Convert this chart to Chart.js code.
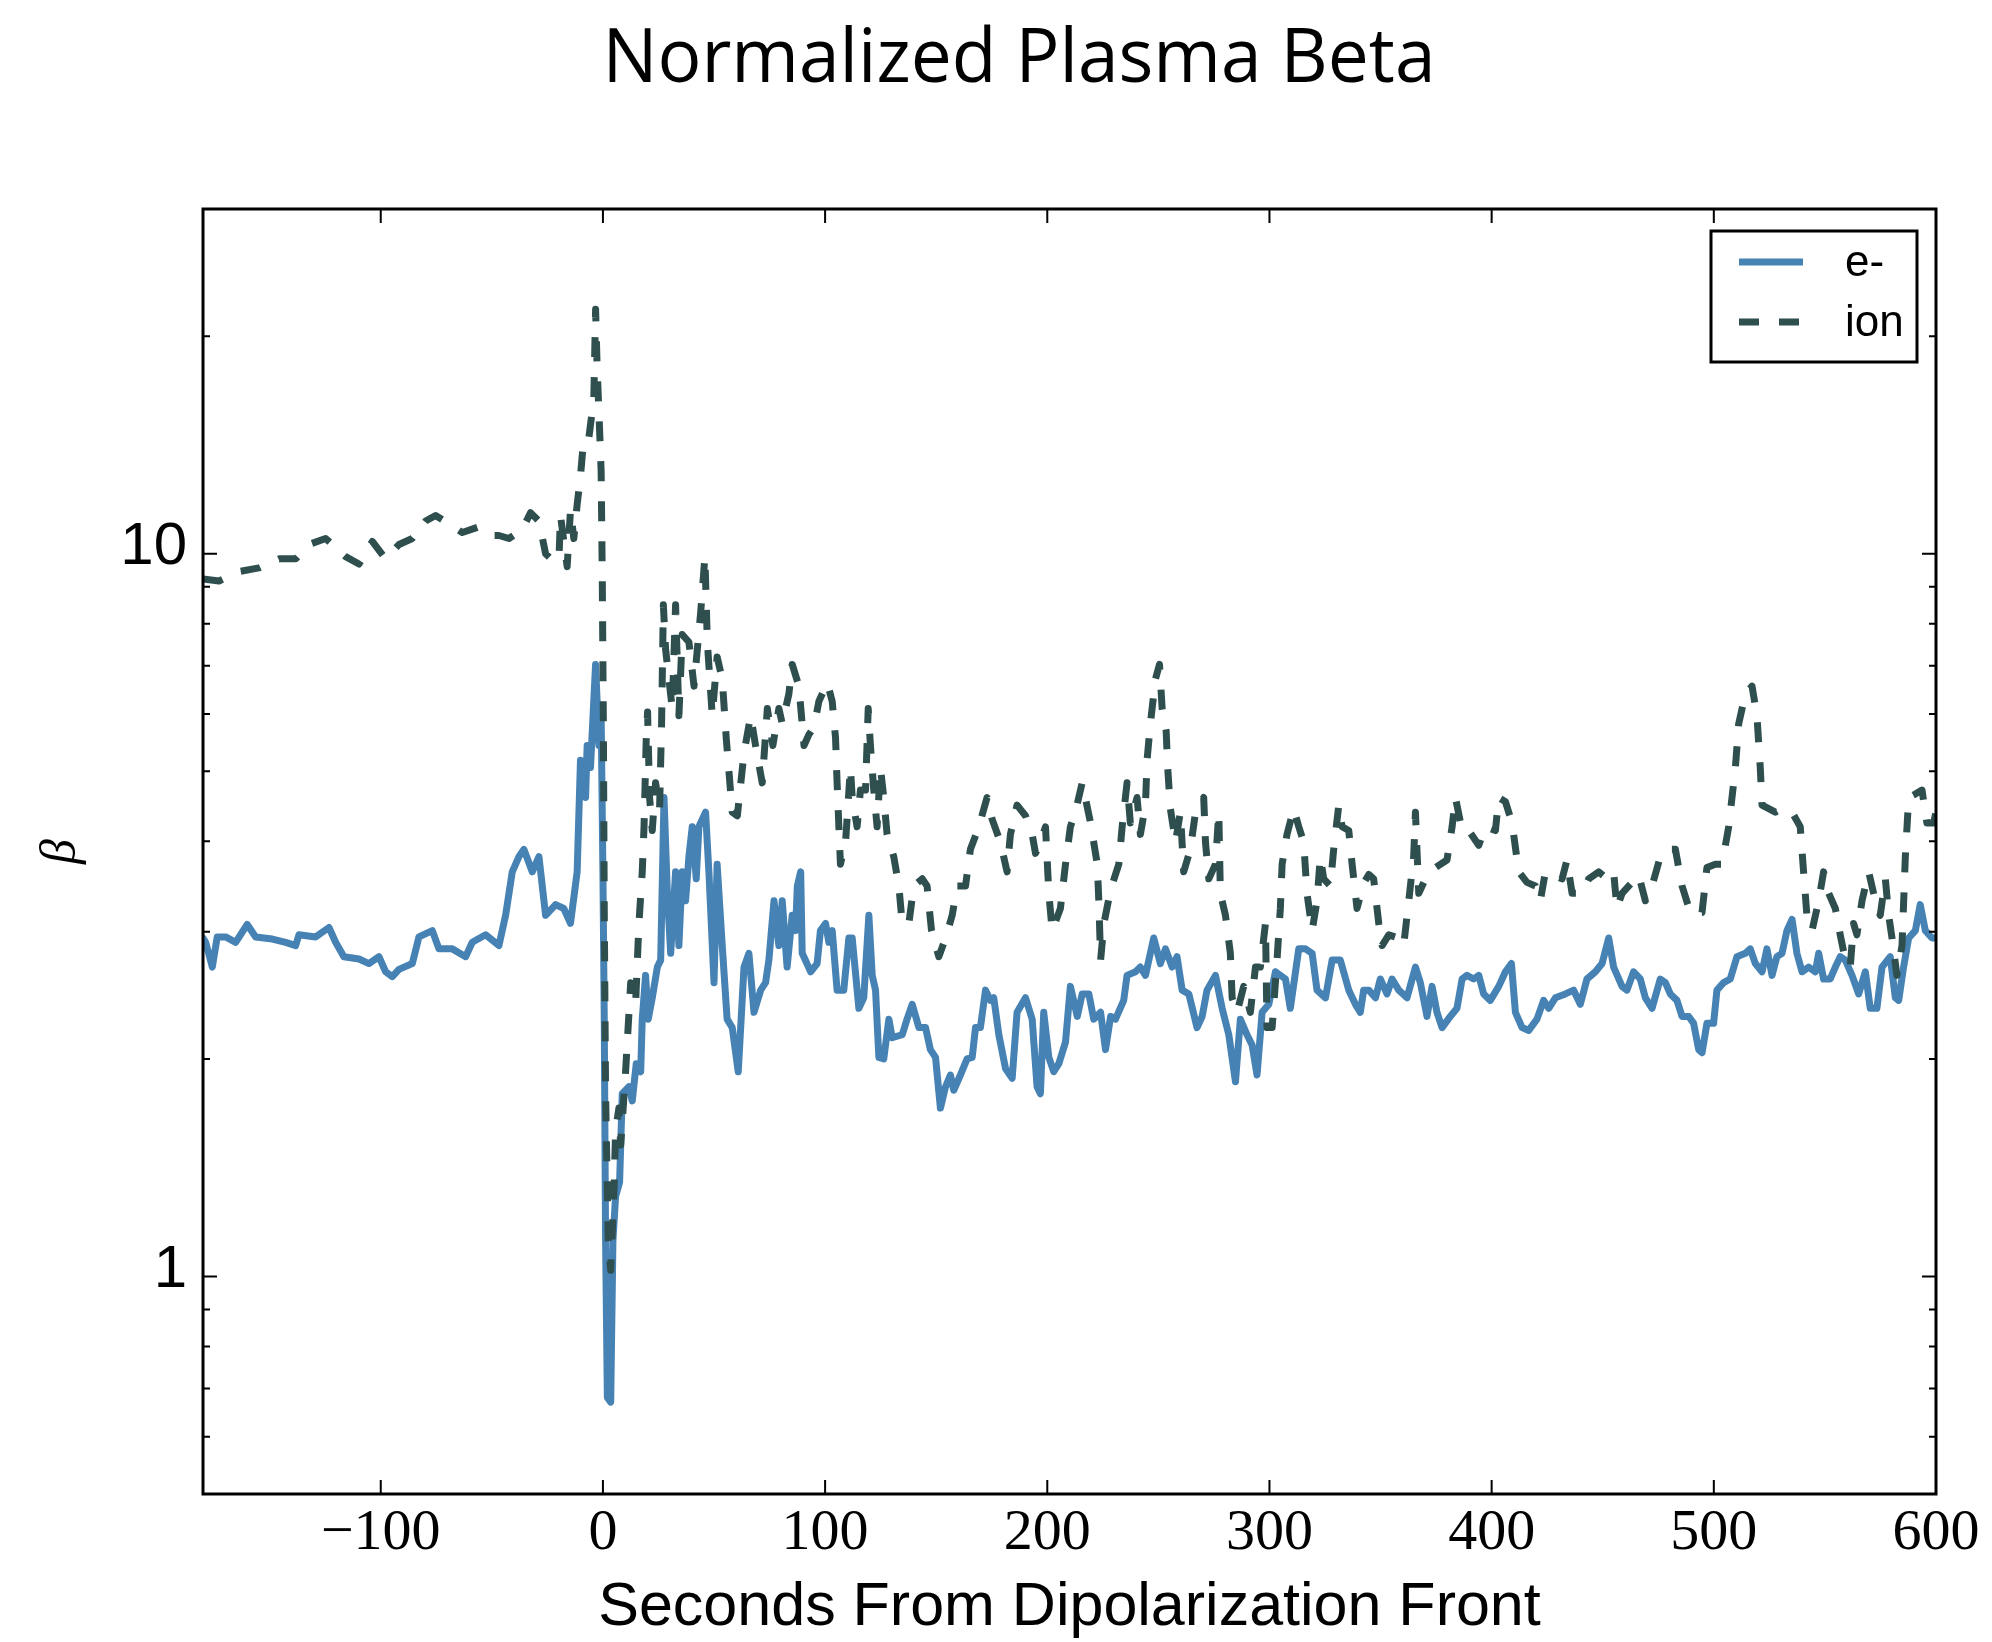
<!DOCTYPE html>
<html lang="en">

<head>
  <meta charset="UTF-8">
  <title>Normalized Plasma Beta</title>
  <script src="https://cdn.jsdelivr.net/npm/chart.js"></script>
  <style>
    body { margin: 0; background: #fff; }
  </style>
</head>

<body>
  <canvas id="betaChart" width="1992" height="1642"></canvas>

  <script>
    // seconds from the dipolarization front, and beta
    const eTime = [-180, -178.8, -175.8, -173.6, -169.8, -165.3, -160.1, -156.3, -148.8, -142.8, -138.3, -136.8,
      -129.3, -123.3, -120.3, -116.6, -109.8, -105.3, -100.8, -97.8, -94.8, -91.8, -85.8, -82.8, -76.8, -73.8,
      -67.8, -61.8, -58.8, -52.8, -46.8, -43.8, -40.8, -37.8, -35.6, -31.8, -28.8, -25.8, -21.3, -17.6, -14.6,
      -11.6, -10.1, -7.8, -7.1, -5.6, -3.3, -1.8, -0.8, 0.0, 0.6, 1.2, 2.0, 3.5, 4.5, 5.7, 7.5, 8.7, 11.7, 13.2,
      15.0, 17.0, 17.7, 19.2, 20.4, 22.2, 24.5, 26.0, 27.5, 29.0, 30.5, 32.7, 34.2, 35.7, 37.2, 38.7, 40.2, 42.0,
      43.2, 46.2, 47.7, 50.0, 51.4, 53.7, 55.9, 58.2, 60.9, 63.5, 65.7, 68.0, 71.0, 73.2, 74.7, 77.0, 79.2, 80.7,
      82.9, 85.2, 86.7, 87.5, 89.0, 89.7, 93.5, 96.4, 97.9, 100.2, 101.7, 103.2, 105.4, 108.4, 110.7, 112.2,
      115.2, 117.4, 119.7, 121.2, 122.7, 124.2, 126.4, 128.7, 130.2, 134.7, 136.9, 139.2, 142.2, 145.2, 147.4,
      149.7, 151.9, 154.2, 156.4, 157.9, 160.9, 163.9, 166.2, 167.7, 169.9, 172.2, 174.4, 175.9, 178.2, 181.2,
      184.2, 186.4, 190.2, 193.2, 195.4, 196.9, 198.4, 200.7, 202.9, 205.2, 208.2, 210.4, 213.5, 215.7, 218.7,
      220.9, 224.0, 226.2, 228.5, 230.7, 234.4, 235.9, 239.7, 241.9, 244.2, 247.9, 250.9, 253.2, 256.2, 258.4,
      260.7, 263.7, 267.4, 269.7, 271.9, 275.7, 278.7, 281.7, 284.7, 286.9, 289.9, 292.2, 294.4, 296.7, 299.7,
      302.7, 307.2, 309.4, 313.2, 316.2, 319.2, 321.4, 325.2, 328.2, 331.9, 335.7, 338.7, 340.9, 342.4, 344.7,
      347.7, 349.9, 352.9, 355.2, 358.2, 361.9, 365.7, 367.9, 370.9, 373.2, 375.4, 377.7, 381.4, 384.4, 386.7,
      388.9, 391.9, 394.2, 396.4, 399.4, 403.2, 406.2, 408.9, 410.7, 413.7, 416.7, 420.4, 423.4, 425.7, 428.7,
      433.2, 436.9, 439.9, 442.9, 446.7, 449.7, 452.7, 454.9, 458.7, 460.9, 463.9, 466.9, 469.2, 472.2, 475.9,
      478.2, 480.4, 483.4, 485.7, 488.7, 490.9, 493.2, 494.7, 496.9, 499.9, 501.4, 504.4, 507.4, 510.4, 514.2,
      516.4, 518.7, 521.7, 523.9, 526.2, 528.4, 530.7, 532.9, 535.2, 537.4, 539.7, 542.7, 545.7, 547.2, 549.4,
      552.4, 554.7, 556.9, 559.2, 562.2, 565.2, 568.2, 570.4, 573.4, 575.7, 579.4, 581.7, 583.2, 585.4, 587.7,
      590.7, 592.9, 595.2, 598.2, 600];
    const eBeta = [2.94, 2.90, 2.68, 2.95, 2.95, 2.90, 3.07, 2.95, 2.93, 2.90, 2.87, 2.97,
      2.95, 3.04, 2.90, 2.77, 2.75, 2.71, 2.77, 2.64, 2.60, 2.66, 2.71, 2.95, 3.01, 2.84,
      2.84, 2.77, 2.90, 2.97, 2.87, 3.16, 3.63, 3.81, 3.90, 3.63, 3.81, 3.16, 3.27, 3.23, 3.08,
      3.63, 5.18, 4.60, 5.43, 5.06, 7.03, 5.43, 5.97, 3.63, 2.27, 1.12, 0.68, 0.67, 1.12, 1.29, 1.35, 1.79, 1.83, 1.75,
      1.97, 1.92, 2.27, 2.61, 2.27, 2.43, 2.68, 2.74, 4.60, 3.39, 2.80, 3.63, 2.87, 3.63, 3.31, 3.81, 4.19, 3.55,
      4.19, 4.39, 3.63, 2.55, 3.72, 2.87, 2.27, 2.21, 1.92, 2.68, 2.80, 2.32, 2.49, 2.55, 2.74, 3.31, 2.87, 3.31,
      2.68, 3.16, 3.01, 3.47, 3.63, 2.80, 2.64, 2.71, 3.01, 3.08, 2.90, 3.01, 2.49, 2.49, 2.94, 2.94,
      2.35, 2.43, 3.16, 2.61, 2.49, 2.01, 2.00, 2.27, 2.14, 2.16, 2.27, 2.38, 2.21, 2.21, 2.06,
      2.01, 1.71, 1.83, 1.90, 1.81, 1.90, 2.00, 2.01, 2.21, 2.21, 2.49, 2.41, 2.43, 2.16, 1.94,
      1.88, 2.32, 2.43, 2.27, 1.83, 1.79, 2.32, 2.01, 1.92, 1.97, 2.11, 2.52, 2.29, 2.46, 2.46,
      2.27, 2.32, 2.06, 2.29, 2.27, 2.41, 2.61, 2.64, 2.68, 2.61, 2.94, 2.71, 2.84, 2.68, 2.77,
      2.49, 2.46, 2.21, 2.29, 2.49, 2.61, 2.35, 2.16, 1.86, 2.27, 2.16, 2.09, 1.90, 2.32, 2.38,
      2.64, 2.58, 2.35, 2.84, 2.84, 2.80, 2.49, 2.43, 2.74, 2.74, 2.49, 2.38, 2.32, 2.49, 2.49,
      2.43, 2.58, 2.46, 2.58, 2.49, 2.43, 2.68, 2.55, 2.29, 2.52, 2.32, 2.21, 2.29, 2.35, 2.58,
      2.61, 2.58, 2.61, 2.46, 2.41, 2.52, 2.64, 2.71, 2.32, 2.21, 2.19, 2.27, 2.41, 2.35, 2.43,
      2.46, 2.49, 2.38, 2.58, 2.64, 2.71, 2.94, 2.68, 2.52, 2.49, 2.64, 2.58, 2.43, 2.35, 2.58,
      2.55, 2.46, 2.41, 2.29, 2.29, 2.24, 2.06, 2.04, 2.24, 2.24, 2.49, 2.55, 2.58, 2.77, 2.80,
      2.84, 2.71, 2.64, 2.84, 2.61, 2.77, 2.80, 3.01, 3.12, 2.80, 2.64, 2.68, 2.64, 2.80, 2.58,
      2.58, 2.68, 2.77, 2.74, 2.61, 2.46, 2.64, 2.35, 2.35, 2.68, 2.77, 2.43, 2.41, 2.68, 2.94,
      3.01, 3.27, 3.01, 2.94, 2.94];

    const ionTime = [-180, -172.8, -163.8, -154.8, -145.8, -138.3, -132.3, -124.8, -120.3, -115.8, -109.8, -103.8,
      -97.8, -91.8, -85.8, -79.8, -75.3, -69.3, -63.3, -55.8, -49.8, -46.8, -42.3, -36.3, -32.6, -28.8, -25.8,
      -22.8, -19.8, -19.1, -16.1, -14.6, -13.1, -11.6, -10.1, -8.6, -6.3, -4.1, -3.3, -2.6, -1.8, -0.8, -0.3,
      0.2, 0.6, 1.2, 2.4, 3.5, 5.0, 5.7, 7.2, 8.0, 10.2, 12.5, 14.7, 16.2, 17.7, 18.5, 19.5, 20.1, 21.0, 22.2,
      23.7, 25.5, 26.4, 27.2, 28.2, 29.7, 31.2, 32.7, 34.2, 35.7, 38.7, 41.0, 42.5, 44.0, 45.9, 47.0, 49.2, 51.4,
      53.7, 55.5, 58.2, 60.5, 63.5, 66.5, 68.7, 71.7, 74.0, 76.5, 79.2, 80.7, 83.7, 85.2, 88.2, 90.5, 92.7, 95.0,
      97.2, 101.0, 103.2, 104.7, 105.4, 106.2, 106.9, 109.2, 111.4, 112.2, 114.4, 115.9, 118.2, 119.4, 120.4,
      121.9, 123.4, 124.9, 126.4, 127.9, 130.9, 133.2, 134.7, 137.7, 139.9, 143.7, 145.9, 147.9, 151.2, 154.2,
      157.2, 159.4, 163.2, 165.4, 169.2, 172.9, 175.2, 178.9, 181.9, 183.4, 186.4, 190.2, 193.2, 194.7, 196.9,
      199.2, 200.7, 202.2, 205.9, 208.2, 210.4, 212.7, 215.7, 219.5, 222.5, 223.2, 224.0, 225.5, 228.5, 232.2,
      233.7, 235.9, 237.4, 240.4, 241.9, 244.2, 244.9, 246.4, 248.7, 250.5, 251.7, 253.5, 254.2, 255.4, 257.7,
      259.9, 261.4, 264.4, 266.7, 270.4, 271.2, 272.7, 275.7, 277.2, 277.9, 280.2, 282.4, 283.2, 285.4, 288.4,
      291.4, 293.7, 295.9, 298.2, 298.9, 301.2, 303.4, 304.9, 305.7, 307.9, 310.9, 313.2, 315.4, 316.9, 319.2,
      321.4, 322.9, 324.4, 327.4, 328.9, 331.2, 332.7, 335.7, 337.2, 339.4, 342.4, 344.7, 346.9, 349.2, 350.7,
      353.7, 358.2, 360.4, 362.7, 364.9, 365.7, 367.2, 370.2, 374.7, 379.9, 382.2, 383.7, 386.7, 389.7, 394.2,
      397.2, 401.7, 403.2, 406.2, 409.2, 412.2, 415.9, 419.7, 421.9, 424.2, 427.9, 431.7, 433.9, 436.2, 440.7,
      443.7, 448.2, 451.9, 454.9, 456.4, 458.7, 463.2, 466.2, 469.2, 472.2, 475.9, 478.9, 482.7, 485.7, 489.4,
      494.7, 496.9, 500.7, 503.7, 506.7, 509.7, 511.2, 514.2, 517.2, 519.4, 520.9, 521.7, 527.7, 530.7, 535.2,
      538.9, 540.4, 541.9, 544.2, 547.2, 549.4, 551.7, 554.7, 556.9, 559.2, 561.4, 562.9, 564.4, 566.7, 569.7,
      572.7, 574.9, 577.2, 578.7, 580.2, 582.4, 584.7, 586.2, 587.7, 590.7, 593.7, 595.9, 598.9, 600];
    const ionBeta = [9.23, 9.17, 9.45, 9.56, 9.84, 9.84, 10.3, 10.5, 10.2, 9.91, 9.68, 10.4,
      9.84, 10.3, 10.5, 11.1, 11.3, 11.0, 10.7, 10.9, 10.6, 10.6, 10.5, 10.8, 11.4, 11.1, 10.0,
      9.8, 9.8, 11.3, 9.6, 11.5, 10.5, 11.7, 12.8, 14.5, 14.5, 16.4, 21.8, 18.1, 15.7, 13.0, 9.34,
      5.82, 3.23, 1.79, 1.12, 1.02, 1.32, 1.59, 1.71, 1.52, 1.92, 2.55, 2.38, 3.08, 3.63, 4.19, 5.56, 6.04, 4.60, 4.14,
      4.82, 4.44, 5.82, 8.5, 7.38, 6.71, 6.11, 8.5, 5.97, 7.73, 7.55, 6.56, 7.38, 8.3, 9.91, 7.55, 5.97, 7.2,
      6.71, 5.56, 4.39, 4.34, 5.3, 5.97, 5.43, 4.82, 6.11, 5.43, 6.11, 5.82, 6.40, 7.03, 6.56, 5.43, 5.62, 5.76,
      6.25, 6.63, 6.25, 5.56, 4.82, 4.19, 3.72, 3.99, 5.06, 4.60, 4.19, 4.71, 4.71, 6.11, 5.43,
      4.71, 4.19, 5.06, 4.60, 4.09, 3.81, 3.47, 3.08, 3.08, 3.47, 3.55, 3.47, 3.01, 2.77, 2.94,
      3.16, 3.47, 3.47, 3.90, 4.19, 4.60, 4.29, 3.99, 3.63, 4.09, 4.49, 4.34, 4.09, 3.85, 3.99,
      4.19, 3.39, 3.01, 3.23, 3.72, 4.19, 4.4, 4.82, 4.24, 3.72, 3.31, 2.74, 3.08, 3.43, 3.72,
      4.19, 4.82, 4.24, 4.60, 4.09, 4.49, 5.18, 5.82, 6.71, 7.03, 6.11, 5.69, 5.06, 4.44, 3.99,
      4.39, 3.63, 3.90, 4.39, 4.60, 3.99, 3.55, 3.72, 4.39, 3.39, 3.16, 2.80, 2.43, 2.32, 2.52,
      2.32, 2.68, 2.68, 3.08, 2.21, 2.21, 2.74, 3.23, 3.72, 4.09, 4.44, 4.19, 3.99, 3.39, 3.01,
      3.31, 3.81, 3.55, 3.47, 3.90, 4.49, 4.19, 4.14, 3.72, 3.23, 3.5, 3.6, 3.55, 3.08, 2.87,
      2.97, 2.94, 2.87, 3.31, 3.81, 4.39, 3.39, 3.55, 3.68, 3.77, 4.19, 4.60, 4.14, 4.14, 3.95,
      4.19, 4.14, 4.60, 4.54, 4.24, 3.63, 3.51, 3.47, 3.31, 3.63, 3.59, 3.55, 3.77, 3.39, 3.39,
      3.55, 3.63, 3.55, 3.63, 3.23, 3.39, 3.51, 3.59, 3.31, 3.47, 3.81, 3.90, 3.90, 3.47, 3.19,
      3.19, 3.68, 3.72, 3.72, 4.19, 5.06, 5.82, 6.40, 6.56, 5.97, 5.06, 4.49, 4.39, 4.44, 4.39,
      4.19, 3.63, 3.16, 3.01, 3.31, 3.63, 3.39, 3.23, 2.97, 2.74, 2.68, 3.08, 2.97, 3.31, 3.63,
      3.31, 3.16, 3.55, 3.16, 2.94, 2.61, 2.87, 3.81, 4.60, 4.65, 4.71, 4.24, 4.24, 4.39];

    const xTickValues = [-100, 0, 100, 200, 300, 400, 500, 600];
    const yMajorTicks = [1, 10];
    const yMinorTicks = [0.6, 0.7, 0.8, 0.9, 2, 3, 4, 5, 6, 7, 8, 9, 20, 30];

    const eColor = '#4682b4';
    const ionColor = '#2f4f4f';

    const toPoints = (xs, ys) => xs.map((x, i) => ({ x: x, y: ys[i] }));

    // matplotlib style box: spines all round, ticks pointing inward, legend in a framed box
    const frameTicksLegend = {
      id: 'frameTicksLegend',
      afterDatasetsDraw(chart) {
        const { ctx, chartArea: a, scales: { x, y } } = chart;
        ctx.save();
        ctx.strokeStyle = '#000';
        ctx.lineWidth = 2;
        ctx.beginPath();
        xTickValues.forEach(v => {
          const px = x.getPixelForValue(v);
          ctx.moveTo(px, a.bottom); ctx.lineTo(px, a.bottom - 14);
          ctx.moveTo(px, a.top); ctx.lineTo(px, a.top + 14);
        });
        yMajorTicks.forEach(v => {
          const py = y.getPixelForValue(v);
          ctx.moveTo(a.left, py); ctx.lineTo(a.left + 14, py);
          ctx.moveTo(a.right, py); ctx.lineTo(a.right - 14, py);
        });
        yMinorTicks.forEach(v => {
          const py = y.getPixelForValue(v);
          ctx.moveTo(a.left, py); ctx.lineTo(a.left + 7, py);
          ctx.moveTo(a.right, py); ctx.lineTo(a.right - 7, py);
        });
        ctx.stroke();

        ctx.lineWidth = 3;
        ctx.strokeRect(a.left, a.top, a.right - a.left, a.bottom - a.top);

        // legend
        const bx = a.right - 225, by = a.top + 22;
        ctx.fillStyle = '#fff';
        ctx.fillRect(bx, by, 206, 131);
        ctx.strokeRect(bx, by, 206, 131);
        chart.data.datasets.forEach((ds, i) => {
          const ly = by + 31 + i * 60;
          ctx.save();
          ctx.strokeStyle = ds.borderColor;
          ctx.lineWidth = ds.borderWidth;
          ctx.setLineDash(ds.borderDash || []);
          ctx.beginPath();
          ctx.moveTo(bx + 28, ly);
          ctx.lineTo(bx + 92, ly);
          ctx.stroke();
          ctx.restore();
          ctx.fillStyle = '#000';
          ctx.font = '44px "Liberation Sans"';
          ctx.textBaseline = 'middle';
          ctx.textAlign = 'left';
          ctx.fillText(ds.label, bx + 134, ly + 2);
        });
        ctx.restore();
      },
      afterDraw(chart) {
        const ctx = chart.ctx;
        const text = 'Normalized Plasma Beta';
        ctx.save();
        ctx.font = '75px "Open Sans"';
        ctx.fillStyle = '#000';
        ctx.textAlign = 'center';
        ctx.textBaseline = 'alphabetic';
        const w = ctx.measureText(text).width;
        ctx.translate(1019, 82);
        ctx.scale(833 / w, 1);
        ctx.fillText(text, 0, 0);
        ctx.restore();
      }
    };

    new Chart(document.getElementById('betaChart').getContext('2d'), {
      type: 'line',
      data: {
        datasets: [
          {
            label: 'e-', data: toPoints(eTime, eBeta), borderColor: eColor, borderWidth: 7,
            pointRadius: 0, tension: 0, fill: false, borderJoinStyle: 'round', borderCapStyle: 'round', order: 1,
          },
          {
            label: 'ion', data: toPoints(ionTime, ionBeta), borderColor: ionColor, borderWidth: 7,
            borderDash: [20, 20], pointRadius: 0, tension: 0, fill: false, borderJoinStyle: 'round',
            borderCapStyle: 'butt', order: 0,
          },
        ],
      },
      options: {
        responsive: false,
        animation: false,
        layout: { padding: { top: 209, right: 56, bottom: 3, left: 0 } },
        plugins: {
          legend: { display: false },
          tooltip: { enabled: false },
          title: { display: false },
        },
        scales: {
          x: {
            type: 'linear',
            min: -180,
            max: 600,
            afterBuildTicks: (scale) => { scale.ticks = xTickValues.map(v => ({ value: v })); },
            afterFit: (scale) => { scale.height = 145; },
            grid: { display: false, drawTicks: false },
            border: { display: false },
            ticks: {
              autoSkip: false,
              maxRotation: 0,
              padding: 5,
              color: '#000',
              font: { family: 'Liberation Serif', size: 58 },
              callback: (v) => v < 0 ? '\u2212' + Math.abs(v) : String(v),
            },
            title: {
              display: true,
              text: 'Seconds From Dipolarization Front',
              color: '#000',
              font: { family: 'Liberation Sans', size: 61, lineHeight: 1 },
              padding: 0,
            },
          },
          y: {
            type: 'logarithmic',
            min: 0.5,
            max: 30,
            afterBuildTicks: (scale) => { scale.ticks = yMajorTicks.map(v => ({ value: v })); },
            afterFit: (scale) => { scale.width = 203; },
            grid: { display: false, drawTicks: false },
            border: { display: false },
            ticks: {
              padding: 16,
              labelOffset: -6,
              color: '#000',
              font: { family: 'Liberation Sans', size: 60 },
              callback: (v) => String(v),
            },
            title: {
              display: true,
              text: '\u03b2',
              color: '#000',
              font: { family: 'Liberation Serif', size: 50, style: 'italic', lineHeight: 1 },
              padding: { top: 37, bottom: 0 },
            },
          },
        },
      },
      plugins: [frameTicksLegend],
    });
  </script>
</body>

</html>
